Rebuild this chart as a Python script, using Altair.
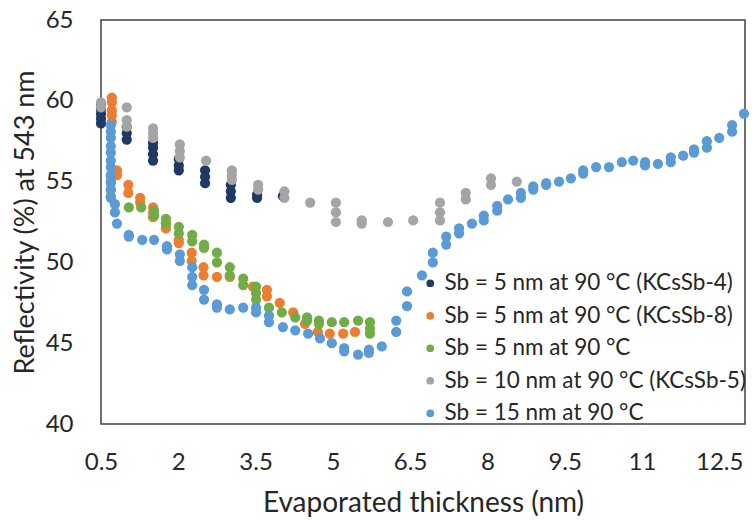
import altair as alt
import pandas as pd

names = [
    "Sb = 5 nm at 90 °C (KCsSb-4)",
    "Sb = 5 nm at 90 °C (KCsSb-8)",
    "Sb = 5 nm at 90 °C",
    "Sb = 10 nm at 90 °C (KCsSb-5)",
    "Sb = 15 nm at 90 °C",
]
colors = ["#203864", "#ED7D31", "#70AD47", "#A5A5A5", "#5B9BD5"]

# Sb = 5 nm (KCsSb-4)
navy_x = [0.5, 0.5, 0.5, 0.5, 0.5, 1.0, 1.0, 1.0, 1.51, 1.51, 1.51, 1.51,
          2.01, 2.01, 2.01, 2.52, 2.52, 2.52, 3.02, 3.02, 3.02, 3.53, 3.53, 4.03]
navy_y = [59.8, 59.5, 59.2, 58.9, 58.6, 58.4, 58.0, 57.6, 57.4, 57.1, 56.7, 56.3,
          56.4, 56.0, 55.7, 55.7, 55.3, 54.9, 54.8, 54.4, 54.0, 54.2, 54.0, 54.1]

# Sb = 5 nm (KCsSb-8)
orange_x = [0.71, 0.71, 0.71, 0.71, 0.71, 0.81, 0.81, 1.03, 1.03, 1.26, 1.26,
            1.51, 1.51, 1.51, 1.76, 1.76, 2.01, 2.01, 2.26, 2.26, 2.49, 2.49,
            2.75, 3.0, 3.45, 3.72, 3.72, 3.97, 4.23, 4.46, 4.71, 4.94, 5.2, 5.43]
orange_y = [60.2, 59.9, 59.4, 59.1, 58.7, 55.7, 55.4, 54.8, 54.3, 54.0, 53.7,
            53.4, 53.1, 52.8, 52.4, 52.1, 51.4, 51.2, 50.6, 50.1, 49.7, 49.2,
            49.1, 49.1, 48.5, 48.3, 47.9, 47.5, 46.9, 46.2, 45.7, 45.6, 45.6, 45.7]

# Sb = 5 nm
green_x = [0.69, 0.69, 0.69, 0.69, 1.04, 1.28, 1.53, 1.53, 1.76, 1.76, 2.01, 2.01,
           2.27, 2.27, 2.5, 2.5, 2.75, 2.75, 3.0, 3.0, 3.26, 3.26, 3.51, 3.51, 3.51,
           3.76, 4.01, 4.27, 4.5, 4.5, 4.73, 4.73, 4.98, 5.22, 5.49, 5.72, 5.72, 5.72]
green_y = [55.3, 54.9, 54.5, 54.1, 53.4, 53.4, 53.2, 52.9, 52.7, 52.4, 52.2, 51.8,
           51.7, 51.3, 51.1, 50.9, 50.6, 50.0, 49.7, 49.2, 49.0, 48.6, 48.5, 48.1, 47.7,
           47.2, 46.9, 46.6, 46.6, 46.4, 46.4, 46.2, 46.3, 46.3, 46.4, 46.3, 45.9, 45.6]

# Sb = 10 nm (KCsSb-5)
gray_x = [0.5, 0.5, 1.0, 1.0, 1.0, 1.51, 1.51, 1.51, 2.03, 2.03, 2.03, 2.54,
          3.04, 3.04, 3.04, 3.55, 3.55, 4.06, 4.06, 4.56, 5.06, 5.06, 5.06,
          5.56, 5.56, 6.07, 6.56, 7.08, 7.08, 7.08, 7.58, 7.58, 8.07, 8.07, 8.57]
gray_y = [59.9, 59.6, 59.6, 58.8, 58.4, 58.3, 58.0, 57.7, 57.3, 56.9, 56.5, 56.3,
          55.7, 55.4, 55.1, 54.8, 54.5, 54.4, 54.0, 53.7, 53.7, 53.1, 52.5,
          52.6, 52.4, 52.5, 52.6, 53.7, 53.1, 52.6, 54.3, 53.9, 55.2, 54.8, 55.0]

# Sb = 15 nm
blue_x = [0.69, 0.69, 0.69, 0.69, 0.69, 0.69, 0.69, 0.69, 0.69, 0.69, 0.69,
          0.77, 0.77, 0.81, 1.04, 1.04, 1.30, 1.53, 1.78, 1.78, 2.03, 2.03,
          2.27, 2.27, 2.27, 2.50, 2.50, 2.75, 2.75, 3.00, 3.26, 3.51, 3.51,
          3.76, 3.76, 4.03, 4.27, 4.52, 4.75, 4.98, 5.22, 5.22, 5.49, 5.70, 5.70,
          5.95, 6.23, 6.23, 6.44, 6.44, 6.73, 6.94, 6.94, 7.20, 7.20, 7.45, 7.45,
          7.70, 7.93, 7.93, 8.19, 8.19, 8.40, 8.65, 8.65, 8.89, 8.89, 9.14, 9.14,
          9.39, 9.62, 9.86, 9.86, 10.11, 10.36, 10.61, 10.83, 11.06, 11.06, 11.31,
          11.56, 11.56, 11.80, 12.01, 12.01, 12.26, 12.26, 12.50, 12.75, 12.75, 12.98]
blue_y = [58.5, 58.1, 57.7, 57.2, 56.8, 56.3, 55.9, 55.4, 55.0, 54.5, 54.0,
          53.6, 53.1, 52.4, 51.7, 51.6, 51.4, 51.4, 51.0, 50.8, 50.5, 50.1,
          49.7, 49.1, 48.6, 48.3, 47.7, 47.4, 47.2, 47.1, 47.2, 47.2, 46.9,
          46.7, 46.3, 46.0, 45.8, 45.6, 45.3, 45.0, 44.7, 44.5, 44.3, 44.6, 44.4,
          44.8, 46.4, 45.7, 48.2, 47.3, 49.2, 50.6, 50.0, 51.6, 51.1, 52.1, 51.8,
          52.4, 52.9, 52.6, 53.5, 53.2, 53.9, 54.3, 54.0, 54.7, 54.5, 54.9, 54.8,
          55.0, 55.2, 55.7, 55.5, 55.9, 55.9, 56.2, 56.3, 56.2, 56.0, 56.1,
          56.5, 56.2, 56.6, 57.0, 56.8, 57.5, 57.1, 57.7, 58.5, 58.1, 59.2]

x_ticks = [0.5, 2, 3.5, 5, 6.5, 8, 9.5, 11, 12.5]
y_ticks = [40, 45, 50, 55, 60, 65]

series = [(navy_x, navy_y), (orange_x, orange_y), (green_x, green_y),
          (gray_x, gray_y), (blue_x, blue_y)]
rows = []
for i, (xs, ys) in enumerate(series):
    for xv, yv in zip(xs, ys):
        rows.append({"series": names[i], "order": i, "x": xv, "y": yv})
df = pd.DataFrame(rows)

FONT = "Lato"
TXT = "#262626"

chart = alt.Chart(df).mark_circle(size=105, opacity=1).encode(
    x=alt.X("x:Q", scale=alt.Scale(domain=[0.5, 13], nice=False, zero=False),
            axis=alt.Axis(values=x_ticks, labelExpr="format(datum.value, '.1~f')",
                          title="Evaporated thickness (nm)",
                          grid=False, ticks=False, domain=False,
                          labelFontSize=24, titleFontSize=28, labelPadding=26,
                          titlePadding=15, labelFlush=False,
                          labelColor=TXT, titleColor=TXT, titleFontWeight="normal")),
    y=alt.Y("y:Q", scale=alt.Scale(domain=[40, 65], nice=False, zero=False),
            axis=alt.Axis(values=y_ticks, labelExpr="format(datum.value, 'd')",
                          title="Reflectivity (%) at 543 nm",
                          grid=False, ticks=False, domain=False,
                          labelFontSize=24, titleFontSize=27, labelPadding=28,
                          titlePadding=6, labelFlush=False,
                          labelColor=TXT, titleColor=TXT, titleFontWeight="normal")),
    color=alt.Color("series:N", scale=alt.Scale(domain=names, range=colors),
                    legend=alt.Legend(title=None, orient="none", legendX=318, legendY=252,
                                      labelFontSize=22.5, labelColor=TXT, symbolSize=60,
                                      symbolType="circle", rowPadding=9.5,
                                      labelOffset=3, labelLimit=400)),
    order=alt.Order("order:Q"),
).properties(
    width=644, height=404,
    padding={"left": 101, "top": 20, "right": 7, "bottom": 97},
    autosize="none",
).configure(font=FONT).configure_view(
    stroke="#404040", strokeWidth=1.5
)

chart.save("out.html", embed_options={"renderer": "svg", "actions": False})
